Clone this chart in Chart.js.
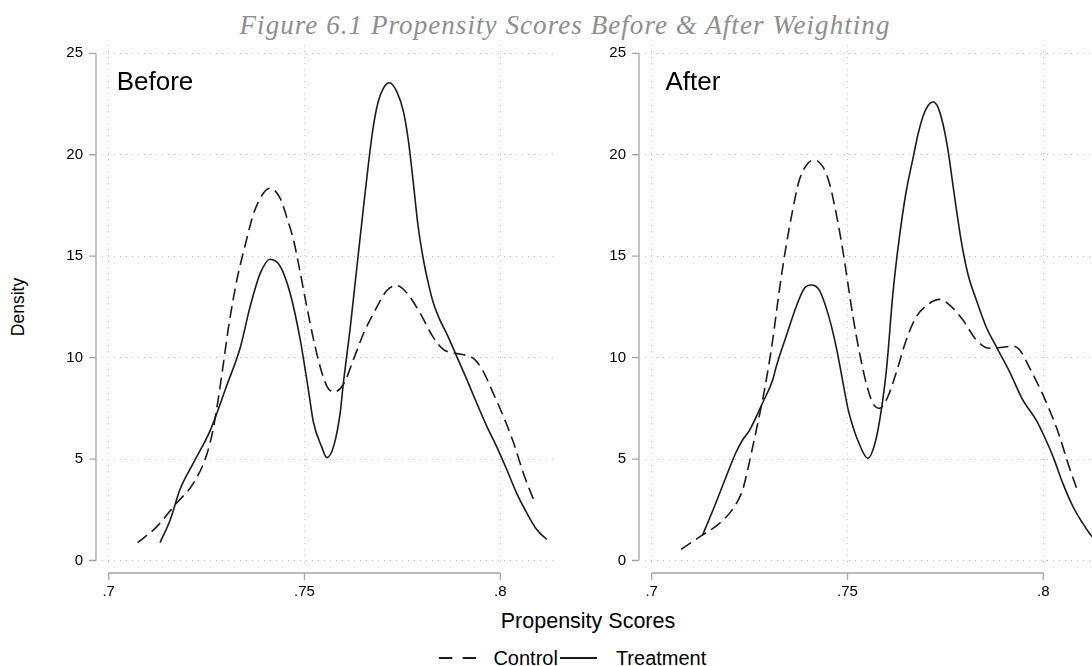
<!DOCTYPE html>
<html>
<head>
<meta charset="utf-8">
<script src="https://cdn.jsdelivr.net/npm/chart.js@4.4.1/dist/chart.umd.min.js"></script>
<style>
  html, body { margin: 0; padding: 0; background: #fff; }
  body { width: 1092px; height: 666px; overflow: hidden; position: relative;
         font-family: 'Liberation Sans', Arial, sans-serif; color: #000; }
  canvas { position: absolute; top: 0; }
  .txt { position: absolute; white-space: nowrap; line-height: 1; }
  #title { font-family: 'Liberation Serif', 'Times New Roman', serif; font-style: italic;
           font-size: 27px; color: #8e8e8e; }
  #legend { position: absolute; display: flex; align-items: center; height: 20px;
            font-size: 20px; line-height: 1; }
  #legend svg { display: block; }
</style>
</head>
<body>
<div id="title" class="txt"></div>
<div id="ytitle" class="txt"></div>
<div id="xtitle" class="txt"></div>
<div id="legend"></div>
<canvas id="left" width="570" height="610" style="left:0px"></canvas>
<canvas id="right" width="570" height="610" style="left:543px"></canvas>
<div id="lblBefore" class="txt"></div>
<div id="lblAfter" class="txt"></div>
<script>
// ---- data ----
const figureTitle = 'Figure 6.1 Propensity Scores Before & After Weighting';
const yAxisTitle = 'Density';
const xAxisTitle = 'Propensity Scores';
const panelTitles = ['Before', 'After'];
const seriesNames = ['Control', 'Treatment'];

const xTicks = [0.70, 0.75, 0.80];
const xTickLabels = ['.7', '.75', '.8'];
const yTicks = [0, 5, 10, 15, 20, 25];
const yTickLabels = ['0', '5', '10', '15', '20', '25'];

// kernel density, before weighting
const beforeControlX = [0.7074,0.7123,0.7169,0.7216,0.7250,0.7268,0.7287,0.7306,0.7327,0.7348,0.7370,0.7395,0.7412,0.7438,0.7455,0.7472,0.7489,0.7506,0.7523,0.7540,0.7557,0.7574,0.7600,0.7625,0.7651,0.7685,0.7710,0.7736,0.7761,0.7795,0.7829,0.7855,0.7889,0.7915,0.7935,0.7957,0.7983,0.8008,0.8034,0.8059,0.8087];
const beforeControlY = [0.88,1.67,2.74,3.80,5.2,6.6,8.9,11.5,13.8,15.5,17.1,18.1,18.35,17.85,16.9,15.8,14.2,12.5,10.9,9.55,8.6,8.3,8.7,9.9,11.2,12.5,13.3,13.55,13.2,12.2,11.0,10.4,10.2,10.1,9.9,9.3,8.2,7.1,5.8,4.3,2.9];
const beforeTreatX = [0.7131,0.7157,0.7182,0.7216,0.7259,0.7301,0.7336,0.7361,0.7387,0.7412,0.7438,0.7463,0.7489,0.7510,0.7523,0.7544,0.7557,0.7574,0.7591,0.7599,0.7617,0.7634,0.7650,0.7663,0.7675,0.7688,0.7702,0.7717,0.7736,0.7753,0.7766,0.7778,0.7790,0.7804,0.7817,0.7829,0.7846,0.7864,0.7889,0.7915,0.7940,0.7966,0.7991,0.8017,0.8042,0.8068,0.8094,0.8119];
const beforeTreatY = [0.88,2.0,3.5,4.8,6.4,8.6,10.5,12.5,14.15,14.85,14.5,13.2,10.9,8.4,6.8,5.6,5.07,5.6,7.25,8.7,11.5,14.5,17.3,19.5,21.3,22.6,23.3,23.55,23.1,22.1,20.6,18.6,16.5,14.8,13.6,12.7,11.85,11.15,10.05,8.9,7.75,6.6,5.6,4.46,3.31,2.33,1.5,1.04];

// kernel density, after weighting
const afterControlX = [0.7075,0.7126,0.7173,0.7211,0.7232,0.7245,0.7258,0.7269,0.7288,0.7309,0.7326,0.7343,0.7360,0.7377,0.7399,0.7416,0.7437,0.7454,0.7471,0.7488,0.7501,0.7514,0.7531,0.7548,0.7565,0.7582,0.7603,0.7624,0.7650,0.7676,0.7710,0.7735,0.7761,0.7795,0.7829,0.7863,0.7897,0.7922,0.7939,0.7965,0.7991,0.8016,0.8042,0.8063,0.8086];
const afterControlY = [0.55,1.21,1.83,2.65,3.47,4.46,5.61,6.6,8.4,10.87,13.33,15.47,17.27,18.75,19.58,19.74,19.41,18.59,17.11,15.30,13.66,12.02,10.21,8.73,7.75,7.50,8.07,9.23,10.87,12.02,12.68,12.87,12.59,11.85,10.87,10.46,10.51,10.57,10.4,9.5,8.5,7.42,6.10,4.79,3.52];
const afterTreatX = [0.7130,0.7160,0.7190,0.7216,0.7232,0.7250,0.7284,0.7309,0.7318,0.7343,0.7369,0.7390,0.7407,0.7428,0.7450,0.7471,0.7492,0.7501,0.7514,0.7526,0.7552,0.7573,0.7590,0.7600,0.7616,0.7633,0.7650,0.7667,0.7680,0.7693,0.7705,0.7718,0.7731,0.7744,0.7756,0.7773,0.7790,0.7807,0.7829,0.7854,0.7880,0.7914,0.7948,0.7982,0.8003,0.8025,0.8050,0.8076,0.8101,0.8118,0.8128];
const afterTreatY = [1.26,2.65,4.13,5.36,5.94,6.43,7.8,8.9,9.55,11.03,12.51,13.42,13.58,13.33,12.18,10.54,8.40,7.5,6.59,5.94,5.04,6.0,7.91,9.5,13.17,16.0,18.2,19.8,21.0,21.9,22.4,22.6,22.35,21.5,20.3,18.0,15.8,14.16,12.84,11.52,10.54,9.3,7.9,6.92,6.10,5.12,3.80,2.65,1.83,1.34,1.1];

// ---- styling ----
const LINE_COLOR = '#1b1b1b';
const GRID_COLOR = '#bdbdbd';
const AXIS_COLOR = '#a6a6a6';
const CONTROL_DASH = [12, 6];
const LEGEND_DASH = '13.3 10.4';
const X_RANGE = [0.698288, 0.814742];
const Y_RANGE = [-0.271, 25.409];

Chart.defaults.font.family = "'Liberation Sans', Arial, sans-serif";

const toPoints = (xs, ys) => xs.map((x, i) => ({ x, y: ys[i] }));

// Stata-style axis lines: offset from the plot region, spanning only the tick range
const offsetAxes = {
  id: 'offsetAxes',
  afterDraw(chart) {
    const { ctx, chartArea, scales: { x, y } } = chart;
    const ax = chartArea.left - 6;
    const ay = chartArea.bottom + 7;
    ctx.save();
    ctx.strokeStyle = AXIS_COLOR;
    ctx.lineWidth = 1.3;
    ctx.beginPath();
    ctx.moveTo(ax, y.getPixelForValue(yTicks[0]));
    ctx.lineTo(ax, y.getPixelForValue(yTicks[yTicks.length - 1]));
    yTicks.forEach(v => {
      const py = y.getPixelForValue(v);
      ctx.moveTo(ax - 7, py); ctx.lineTo(ax, py);
    });
    ctx.moveTo(x.getPixelForValue(xTicks[0]), ay);
    ctx.lineTo(x.getPixelForValue(xTicks[xTicks.length - 1]), ay);
    xTicks.forEach(v => {
      const px = x.getPixelForValue(v);
      ctx.moveTo(px, ay); ctx.lineTo(px, ay + 7);
    });
    ctx.stroke();
    ctx.restore();
  }
};

function panel(canvasId, ctrlX, ctrlY, treatX, treatY) {
  const common = { borderColor: LINE_COLOR, borderWidth: 1.6, pointRadius: 0,
                   cubicInterpolationMode: 'monotone', fill: false };
  return new Chart(document.getElementById(canvasId), {
    type: 'line',
    data: {
      datasets: [
        { ...common, label: seriesNames[0], data: toPoints(ctrlX, ctrlY), borderDash: CONTROL_DASH },
        { ...common, label: seriesNames[1], data: toPoints(treatX, treatY) }
      ]
    },
    options: {
      responsive: false,
      animation: false,
      devicePixelRatio: 1,
      layout: { padding: { top: 45, right: 12, left: 0, bottom: 0 } },
      plugins: { legend: { display: false }, tooltip: { enabled: false }, title: { display: false } },
      scales: {
        x: {
          type: 'linear', min: X_RANGE[0], max: X_RANGE[1],
          afterBuildTicks: s => { s.ticks = xTicks.map(v => ({ value: v })); },
          afterFit: s => { s.height = 44; },
          ticks: {
            autoSkip: false, maxRotation: 0, padding: 17, color: '#000',
            font: { size: 15 },
            callback: (v) => xTickLabels[xTicks.findIndex(t => Math.abs(t - v) < 1e-9)]
          },
          grid: { color: GRID_COLOR, lineWidth: 1, drawTicks: false },
          border: { display: false, dash: [1, 5] }
        },
        y: {
          type: 'linear', min: Y_RANGE[0], max: Y_RANGE[1],
          afterBuildTicks: s => { s.ticks = yTicks.map(v => ({ value: v })); },
          afterFit: s => { s.width = 102; },
          ticks: {
            padding: 19, color: '#000', font: { size: 15 },
            callback: (v) => yTickLabels[yTicks.indexOf(v)]
          },
          grid: { color: GRID_COLOR, lineWidth: 1, drawTicks: false },
          border: { display: false, dash: [1, 5] }
        }
      }
    },
    plugins: [offsetAxes]
  });
}

const leftChart = panel('left', beforeControlX, beforeControlY, beforeTreatX, beforeTreatY);
const rightChart = panel('right', afterControlX, afterControlY, afterTreatX, afterTreatY);

// ---- text placed around the panels ----
function placeText(el, text, size, left, baseline, ascentRatio, anchor) {
  el.textContent = text;
  el.style.fontSize = size + 'px';
  el.style.top = (baseline - ascentRatio * size) + 'px';
  el.style.left = left + 'px';
  if (anchor === 'center') el.style.transform = 'translateX(-50%)';
}

// figure title, stretched to its full measured width
const titleEl = document.getElementById('title');
titleEl.textContent = figureTitle;
titleEl.style.top = (34.8 - 0.8375 * 27) + 'px';
titleEl.style.left = '0px';
const natural = titleEl.getBoundingClientRect().width;
const ls = (651 - natural) / figureTitle.length;
titleEl.style.letterSpacing = ls + 'px';
titleEl.style.left = (239.5) + 'px';

placeText(document.getElementById('lblBefore'), panelTitles[0], 26,
  leftChart.scales.x.getPixelForValue(0.7) + 8, 89.8, 0.8465);
placeText(document.getElementById('lblAfter'), panelTitles[1], 26,
  543 + rightChart.scales.x.getPixelForValue(0.7) + 13.7, 89.8, 0.8465);

placeText(document.getElementById('xtitle'), xAxisTitle, 21.5, 588, 628.8, 0.8465, 'center');

const yt = document.getElementById('ytitle');
yt.textContent = yAxisTitle;
yt.style.fontSize = '17.5px';
yt.style.left = '19.3px';
yt.style.top = ((leftChart.scales.y.getPixelForValue(0) + leftChart.scales.y.getPixelForValue(25)) / 2) + 'px';
yt.style.transform = 'translate(-50%, -50%) rotate(-90deg)';

// legend: line samples share the series' stroke styles
const legend = document.getElementById('legend');
legend.style.left = '439.4px';
legend.style.top = (664.5 - 0.8465 * 20) + 'px';
const legendDash = [LEGEND_DASH, null];
seriesNames.forEach((name, i) => {
  const svgNS = 'http://www.w3.org/2000/svg';
  const svg = document.createElementNS(svgNS, 'svg');
  svg.setAttribute('width', '37'); svg.setAttribute('height', '6');
  const ln = document.createElementNS(svgNS, 'line');
  ln.setAttribute('x1', '0'); ln.setAttribute('x2', '37');
  ln.setAttribute('y1', '3'); ln.setAttribute('y2', '3');
  ln.setAttribute('stroke', LINE_COLOR); ln.setAttribute('stroke-width', '2');
  if (legendDash[i]) ln.setAttribute('stroke-dasharray', legendDash[i]);
  svg.appendChild(ln);
  svg.style.marginRight = (i === 0 ? 17 : 19) + 'px';
  const span = document.createElement('span');
  span.textContent = name;
  span.style.marginRight = '2px';
  legend.appendChild(svg);
  legend.appendChild(span);
});
</script>
</body>
</html>
